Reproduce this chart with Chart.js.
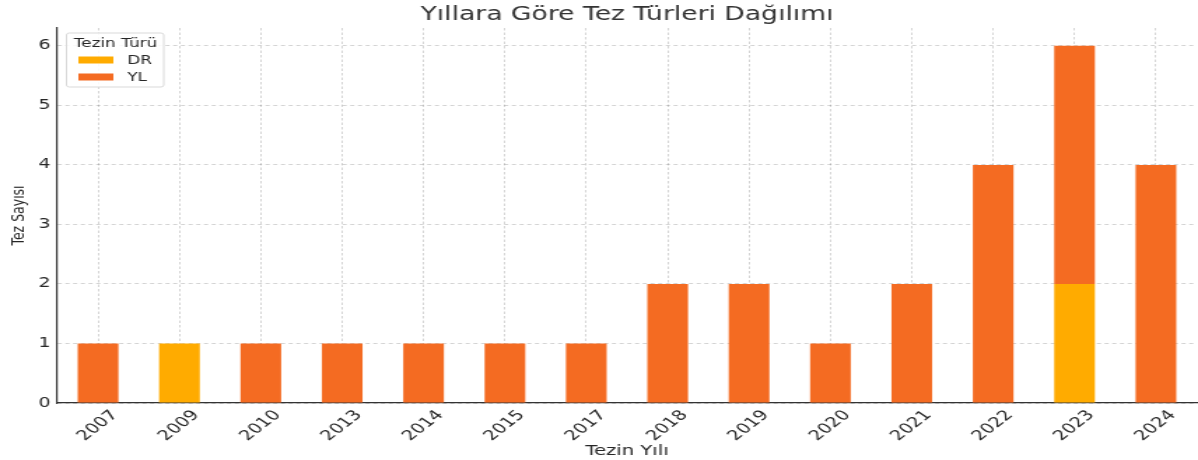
<!DOCTYPE html>
<html>
<head>
<meta charset="utf-8">
<script src="https://cdn.jsdelivr.net/npm/chart.js@4.4.1/dist/chart.umd.min.js"></script>
<style>
  body { margin: 0; background: #fff; }
  /* the reference is stretched sideways, so the canvas is too */
  #myChart { display: block; width: 1198px !important; height: 460px !important; }
</style>
</head>
<body>
<canvas id="myChart" width="856" height="460"></canvas>
<script>
// tez türleri - yillara gore
const years = ['2007', '2009', '2010', '2013', '2014', '2015', '2017', '2018', '2019', '2020', '2021', '2022', '2023', '2024'];
const drCounts = [0, 1, 0, 0, 0, 0, 0, 0, 0, 0, 0, 0, 2, 0];
const ylCounts = [1, 0, 1, 1, 1, 1, 1, 2, 2, 1, 2, 4, 4, 4];
const yTicks = [0, 1, 2, 3, 4, 5, 6];

const textColor = '#262626';
const fontFamily = "'DejaVu Sans', sans-serif";
Chart.defaults.font.family = fontFamily;
Chart.defaults.color = textColor;

// legend inside the plot, top left, drawn over the grid
const legendBox = {
    id: 'legendBox',
    afterDraw(chart) {
        const ca = chart.chartArea;
        const ctx = chart.ctx;
        const x0 = ca.left + 6.5;
        const y0 = ca.top + 5;
        ctx.save();
        ctx.beginPath();
        ctx.roundRect(x0, y0, 69.5, 54, 2);
        ctx.fillStyle = 'rgba(255,255,255,0.85)';
        ctx.fill();
        ctx.strokeStyle = '#d9d9d9';
        ctx.lineWidth = 1;
        ctx.stroke();

        ctx.fillStyle = textColor;
        ctx.font = '12px ' + fontFamily;
        ctx.textBaseline = 'middle';
        ctx.textAlign = 'center';
        ctx.fillText('Tezin Türü', x0 + 35, y0 + 10.5);
        ctx.textAlign = 'left';
        chart.data.datasets.forEach((ds, i) => {
            const yy = y0 + 27 + i * 17;
            ctx.fillStyle = ds.backgroundColor;
            ctx.fillRect(x0 + 8.5, yy - 3.5, 25, 7);
            ctx.fillStyle = textColor;
            ctx.fillText(ds.label, x0 + 43.5, yy + 0.5);
        });
        ctx.restore();
    }
};

const ctx = document.getElementById('myChart');
const myChart = new Chart(ctx, {
    type: 'bar',
    data: {
        labels: years,
        datasets: [{
            label: 'DR',
            data: drCounts,
            backgroundColor: '#FFAB00',
            borderWidth: 0
        },
        {
            label: 'YL',
            data: ylCounts,
            backgroundColor: '#F46B22',
            borderWidth: 0
        }]
    },
    options: {
        responsive: false,
        animation: false,
        devicePixelRatio: 1,
        layout: { padding: { right: 1 } },
        datasets: {
            bar: { barPercentage: 0.5, categoryPercentage: 1.0 }
        },
        plugins: {
            title: {
                display: true,
                fullSize: false,
                text: 'Yıllara Göre Tez Türleri Dağılımı',
                color: '#333',
                font: { size: 19, weight: 'normal' },
                padding: { top: 4, bottom: 1.2 }
            },
            legend: { display: false },
            tooltip: { enabled: false }
        },
        scales: {
            x: {
                stacked: true,
                z: 1,
                afterFit(scale) { scale.height = 57; },
                grid: {
                    offset: false,
                    color: 'rgba(0,0,0,0.17)',
                    drawTicks: false
                },
                border: { display: true, color: '#333', width: 1.2, dash: [2.5, 2] },
                ticks: {
                    minRotation: 47,
                    maxRotation: 47,
                    labelOffset: 12,
                    padding: 4,
                    color: textColor,
                    font: { size: 14 }
                },
                title: {
                    display: true,
                    text: 'Tezin Yılı',
                    color: textColor,
                    font: { size: 14 },
                    padding: { top: 0, bottom: 0 }
                }
            },
            y: {
                stacked: true,
                z: 1,
                min: 0,
                max: 6.3,
                afterFit(scale) { scale.width = 41; },
                afterBuildTicks(scale) {
                    scale.ticks = yTicks.map(v => ({ value: v }));
                },
                grid: {
                    color: 'rgba(0,0,0,0.17)',
                    drawTicks: false
                },
                border: { display: true, color: '#333', width: 1.2, dash: [3, 2.5] },
                ticks: {
                    padding: 5,
                    color: textColor,
                    font: { size: 13.5 }
                },
                title: {
                    display: true,
                    text: 'Tez Sayısı',
                    color: textColor,
                    font: { size: 12.5 },
                    padding: { top: 6, bottom: 0 }
                }
            }
        }
    },
    plugins: [legendBox]
});
</script>
</body>
</html>
